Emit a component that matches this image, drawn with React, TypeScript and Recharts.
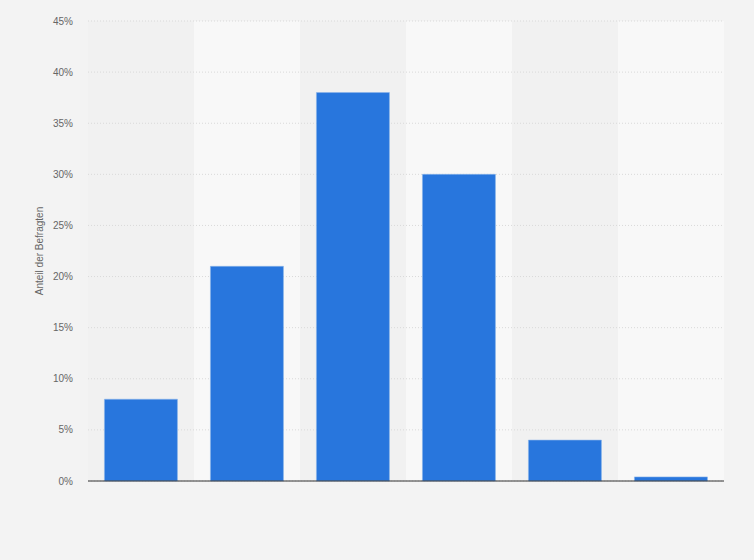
import { BarChart, Bar, XAxis, YAxis, CartesianGrid } from 'recharts';

// categories are not labelled in the source picture
const categories = ['Gruppe 1', 'Gruppe 2', 'Gruppe 3', 'Gruppe 4', 'Gruppe 5', 'Gruppe 6'];
const shares = [8, 21, 38, 30, 4, 0.4];
const yTicks = [0, 5, 10, 15, 20, 25, 30, 35, 40, 45];
const bandFills = ['#f1f1f1', '#f8f8f8'];

const chartData = categories.map((name, i) => ({ name, value: shares[i] }));

const YLabel = ({ viewBox }: any) => {
  const cx = viewBox.x + 43;
  const cy = viewBox.y + viewBox.height / 2;
  return (
    <text
      x={cx}
      y={cy}
      transform={`rotate(-90, ${cx}, ${cy})`}
      textAnchor="middle"
      fill="#666"
      fontSize={10}
    >
      Anteil der Befragten
    </text>
  );
};

// band edges: one stripe per category
const bandEdges = ({ offset }: any) =>
  categories.map((_, i) => offset.left + (i * offset.width) / categories.length);

export default function App() {
  return (
    <div
      style={{
        position: 'absolute',
        left: 0,
        top: 0,
        width: 754,
        height: 560,
        background: '#f3f3f3',
        fontFamily: 'Arial, "Liberation Sans", sans-serif',
      }}
    >
      <BarChart
        width={754}
        height={560}
        data={chartData}
        margin={{ top: 21, right: 30, left: 0, bottom: 73 }}
        barCategoryGap="15.5%"
      >
        <CartesianGrid
          stroke="#d9d9d9"
          strokeDasharray="1 2"
          vertical={() => <g />}
          verticalFill={bandFills}
          fillOpacity={1}
          verticalCoordinatesGenerator={bandEdges}
        />
        <XAxis dataKey="name" tick={false} tickLine={false} axisLine={{ stroke: '#333', strokeWidth: 1 }} height={6} />
        <YAxis
          domain={[0, 45]}
          ticks={yTicks}
          interval={0}
          width={88}
          axisLine={false}
          tickLine={false}
          tickMargin={9}
          tick={{ fill: '#666', fontSize: 10 }}
          tickFormatter={(v) => `${v}%`}
          label={<YLabel />}
        />
        <Bar dataKey="value" fill="#2876dd" stroke="#8ab4ea" strokeWidth={0.6} isAnimationActive={false} />
      </BarChart>
    </div>
  );
}
